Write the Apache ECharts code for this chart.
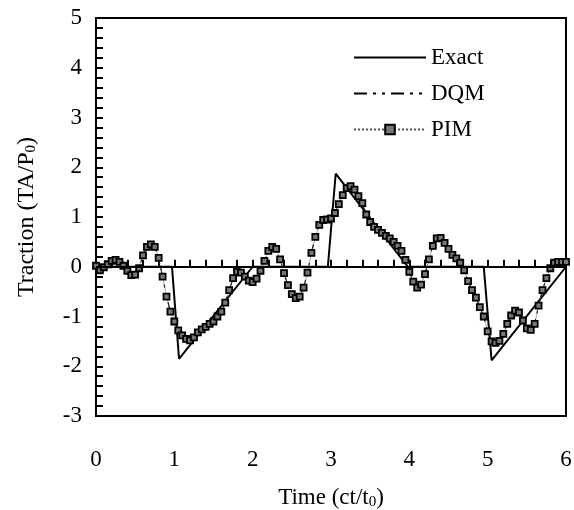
<!DOCTYPE html>
<html>
<head>
<meta charset="utf-8">
<script src="https://cdn.jsdelivr.net/npm/echarts@6/dist/echarts.min.js"></script>
<style>
  html, body { margin: 0; padding: 0; background: #fff; }
  #chart { width: 574px; height: 510px; }
</style>
</head>
<body>
<div id="chart"></div>
<script>
// exact solution (piecewise straight segments)
var exactT = [0, 0.97, 1.06, 2.0, 2.96, 3.06, 3.98, 4.95, 5.05, 6.0];
var exactY = [0, 0, -1.85, 0, 0, 1.87, 0, 0, -1.88, 0];

// PIM samples, one every 0.05
var pimT = [
  0.00, 0.05, 0.10, 0.15, 0.20, 0.25, 0.30, 0.35, 0.40, 0.45,
  0.50, 0.55, 0.60, 0.65, 0.70, 0.75, 0.80, 0.85, 0.90, 0.95,
  1.00, 1.05, 1.10, 1.15, 1.20, 1.25, 1.30, 1.35, 1.40, 1.45,
  1.50, 1.55, 1.60, 1.65, 1.70, 1.75, 1.80, 1.85, 1.90, 1.95,
  2.00, 2.05, 2.10, 2.15, 2.20, 2.25, 2.30, 2.35, 2.40, 2.45,
  2.50, 2.55, 2.60, 2.65, 2.70, 2.75, 2.80, 2.85, 2.90, 2.95,
  3.00, 3.05, 3.10, 3.15, 3.20, 3.25, 3.30, 3.35, 3.40, 3.45,
  3.50, 3.55, 3.60, 3.65, 3.70, 3.75, 3.80, 3.85, 3.90, 3.95,
  4.00, 4.05, 4.10, 4.15, 4.20, 4.25, 4.30, 4.35, 4.40, 4.45,
  4.50, 4.55, 4.60, 4.65, 4.70, 4.75, 4.80, 4.85, 4.90, 4.95,
  5.00, 5.05, 5.10, 5.15, 5.20, 5.25, 5.30, 5.35, 5.40, 5.45,
  5.50, 5.55, 5.60, 5.65, 5.70, 5.75, 5.80, 5.85, 5.90, 5.95,
  6.00
];
var pimY = [
  0.02, -0.07, -0.01, 0.05, 0.12, 0.14, 0.10, 0.02, -0.08, -0.17,
  -0.16, -0.03, 0.23, 0.40, 0.45, 0.40, 0.18, -0.20, -0.60, -0.90,
  -1.10, -1.28, -1.38, -1.45, -1.48, -1.42, -1.32, -1.26, -1.21, -1.15,
  -1.10, -1.00, -0.90, -0.72, -0.47, -0.23, -0.10, -0.12, -0.20, -0.28,
  -0.31, -0.24, -0.08, 0.12, 0.32, 0.40, 0.36, 0.15, -0.13, -0.37,
  -0.55, -0.63, -0.60, -0.42, -0.12, 0.28, 0.60, 0.84, 0.94, 0.95,
  0.97, 1.08, 1.26, 1.44, 1.58, 1.62, 1.55, 1.42, 1.28, 1.05,
  0.90, 0.80, 0.74, 0.68, 0.62, 0.57, 0.50, 0.42, 0.32, 0.14,
  -0.10, -0.30, -0.42, -0.36, -0.15, 0.15, 0.42, 0.57, 0.58, 0.48,
  0.36, 0.24, 0.17, 0.08, -0.07, -0.29, -0.47, -0.62, -0.81, -1.00,
  -1.30, -1.50, -1.53, -1.49, -1.35, -1.15, -0.98, -0.88, -0.92, -1.08,
  -1.24, -1.27, -1.15, -0.78, -0.47, -0.23, -0.03, 0.08, 0.10, 0.10,
  0.10
];

// DQM lies on top of the PIM curve in the figure
var dqmT = pimT;
var dqmY = pimY;

var pairs = function(xs, ys) {
    var res = [];
    for (var i = 0; i < xs.length; i++) {
        res.push([xs[i], ys[i]]);
    }
    return res;
};

var font = 'Liberation Serif';
var subStyle = { fontFamily: font, fontSize: 15, verticalAlign: 'bottom', padding: [9, 0, 0, 0] };

var chart = echarts.init(document.getElementById('chart'));
chart.setOption({
    animation: false,
    textStyle: { fontFamily: font, color: '#000' },
    grid: {
        left: 96, right: 8, top: 18, bottom: 94,
        outerBoundsMode: 'none',
        show: true, borderColor: '#000', borderWidth: 2
    },
    legend: {
        orient: 'vertical',
        left: 348, top: 41,
        itemWidth: 72, itemHeight: 12, itemGap: 13,
        textStyle: { fontFamily: font, fontSize: 23, color: '#000' },
        data: [
            { name: 'Exact', itemStyle: { opacity: 0 } },
            { name: 'DQM', itemStyle: { opacity: 0 } },
            'PIM'
        ]
    },
    xAxis: {
        type: 'value', min: 0, max: 6, interval: 1,
        name: 'Time (ct/t{sub|0})',
        nameLocation: 'middle', nameGap: 70,
        nameTextStyle: {
            fontFamily: font, fontSize: 23, color: '#000',
            rich: { sub: subStyle }
        },
        axisLine: { lineStyle: { color: '#000', width: 2 } },
        axisTick: { inside: true, length: 7, lineStyle: { color: '#000', width: 2 } },
        minorTick: { show: true, splitNumber: 5, length: 7, lineStyle: { color: '#000', width: 2 } },
        axisLabel: { fontFamily: font, fontSize: 23, color: '#000', margin: 32 },
        splitLine: { show: false }
    },
    yAxis: {
        type: 'value', min: -3, max: 5, interval: 1,
        name: 'Traction (TA/P{sub|0})',
        nameLocation: 'middle', nameGap: 57,
        nameTextStyle: {
            fontFamily: font, fontSize: 24, color: '#000',
            rich: { sub: subStyle }
        },
        axisLine: { onZero: false, lineStyle: { color: '#000', width: 2 } },
        axisTick: { inside: true, length: 7, lineStyle: { color: '#000', width: 2 } },
        minorTick: { show: true, splitNumber: 5, length: 7, lineStyle: { color: '#000', width: 2 } },
        axisLabel: { fontFamily: font, fontSize: 23, color: '#000', margin: 14 },
        splitLine: { show: false }
    },
    series: [
        {
            name: 'Exact',
            type: 'line',
            data: pairs(exactT, exactY),
            showSymbol: false,
            symbol: 'none',
            lineStyle: { color: '#000', width: 2 },
            itemStyle: { color: '#000' },
            markLine: {
                silent: true,
                symbol: 'none',
                label: { show: false },
                lineStyle: { color: '#000', width: 2, type: 'solid' },
                data: [{ yAxis: 0 }]
            },
            z: 3
        },
        {
            name: 'DQM',
            type: 'line',
            data: pairs(dqmT, dqmY),
            symbol: 'none',
            lineStyle: { color: '#000', width: 1.2, type: [13, 6, 3, 6, 3, 6] },
            itemStyle: { color: '#000' },
            z: 2
        },
        {
            name: 'PIM',
            type: 'line',
            data: pairs(pimT, pimY),
            symbol: 'rect',
            symbolSize: 6,
            lineStyle: { color: '#555', width: 1, type: 'dotted' },
            itemStyle: { color: '#777', borderColor: '#000', borderWidth: 1.8 },
            z: 4
        }
    ]
});
</script>
</body>
</html>
